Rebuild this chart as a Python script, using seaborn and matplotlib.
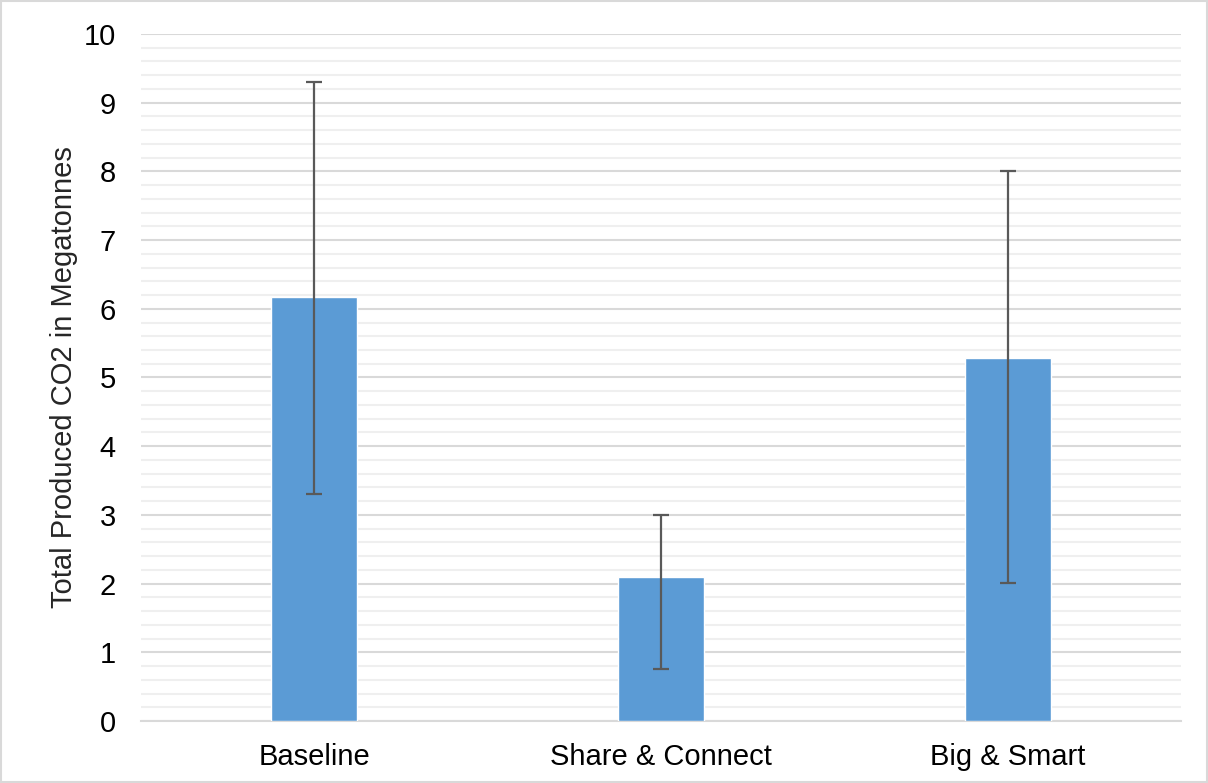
import numpy as np
import pandas as pd
import matplotlib.pyplot as plt
import seaborn as sns
from matplotlib.ticker import MultipleLocator
from matplotlib.patches import Rectangle

scenarios = ['Baseline', 'Share & Connect', 'Big & Smart']
co2_total = [6.17, 2.09, 5.29]
err_low = [3.30, 0.76, 2.01]
err_high = [9.30, 3.00, 8.00]

df = pd.DataFrame({'scenario': scenarios, 'co2': co2_total})

sns.set_style('white')
plt.rcParams['font.family'] = ['Liberation Sans', 'DejaVu Sans']

fig = plt.figure(figsize=(12.08, 7.83), dpi=100)
ax = fig.add_axes([0.1167, 0.0792, 0.861, 0.8774])

sns.barplot(data=df, x='scenario', y='co2', color='#5B9BD5', saturation=1,
            width=0.248, errorbar=None, ax=ax, zorder=3)

yerr = [np.array(co2_total) - np.array(err_low), np.array(err_high) - np.array(co2_total)]
ax.errorbar(range(len(scenarios)), co2_total, yerr=yerr, fmt='none',
            ecolor='#595959', elinewidth=1.6, capsize=6, capthick=1.6, zorder=4)

ax.set_xlim(-0.5, 2.5)
ax.set_ylim(0, 10)
ax.yaxis.set_major_locator(MultipleLocator(1))
ax.yaxis.set_minor_locator(MultipleLocator(0.2))
ax.grid(axis='y', which='major', color='#D9D9D9', linewidth=1.5, zorder=0)
ax.grid(axis='y', which='minor', color='#EFEFEF', linewidth=1.5, zorder=0)
ax.set_axisbelow(True)

for s in ['top', 'right', 'left']:
    ax.spines[s].set_visible(False)
ax.spines['bottom'].set_color('#D9D9D9')
ax.spines['bottom'].set_linewidth(1.5)

ax.tick_params(axis='both', which='both', length=0, labelsize=21, colors='black')
ax.tick_params(axis='y', pad=18)
ax.tick_params(axis='x', pad=16)
ax.set_xlabel('')
ax.set_ylabel('Total Produced CO2 in Megatonnes', fontsize=21, labelpad=4)

fig.patches.append(Rectangle((0.001, 0.001), 0.998, 0.998, transform=fig.transFigure,
                             fill=False, edgecolor='#D9D9D9', linewidth=1.5))

fig.savefig('out.png', dpi=100)
